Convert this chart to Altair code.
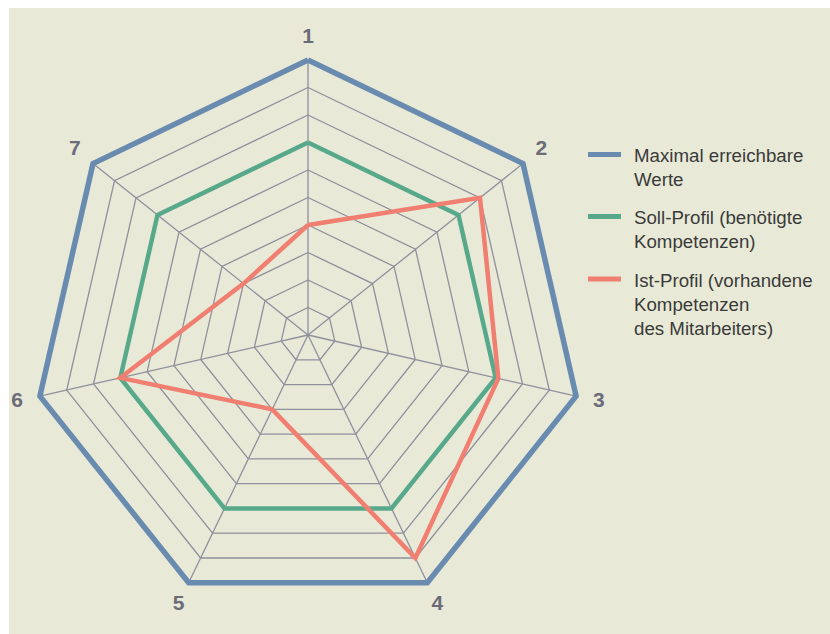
import math
import altair as alt
import pandas as pd

# ---- data ----
axes = ["1", "2", "3", "4", "5", "6", "7"]
max_vals = [10, 10, 10, 10, 10, 10, 10]
soll_vals = [7, 7, 7, 7, 7, 7, 7]
ist_vals = [4, 8, 7.1, 9, 3, 7, 3]
series = ["Maximal erreichbare Werte",
          "Soll-Profil (benötigte Kompetenzen)",
          "Ist-Profil (vorhandene Kompetenzen des Mitarbeiters)"]
legend_lines = [["Maximal erreichbare", "Werte"],
                ["Soll-Profil (benötigte", "Kompetenzen)"],
                ["Ist-Profil (vorhandene", "Kompetenzen", "des Mitarbeiters)"]]
rings = [1, 2, 3, 4, 5, 6, 7, 8, 9, 10]
colors = ["#6a8bb0", "#58a98b", "#f07e71"]

# ---- layout ----
W, H = 830, 634
CX, CY, U = 308, 335, 27.5
n = len(axes)


def ang(k):
    return 2 * math.pi * k / n


xs = alt.Scale(domain=[-CX / U, (W - CX) / U], range=[0, W], nice=False, zero=False)
ys = alt.Scale(domain=[-(H - CY) / U, CY / U], range=[H, 0], nice=False, zero=False)

# grid rings
grid_rows = []
for r in rings:
    for k in range(n + 1):
        a = ang(k % n)
        grid_rows.append({"ring": r, "k": k, "x": r * math.sin(a), "y": r * math.cos(a)})
grid_df = pd.DataFrame(grid_rows)

spoke_df = pd.DataFrame([{"x": 0.0, "y": 0.0,
                          "x2": max(rings) * math.sin(ang(k)),
                          "y2": max(rings) * math.cos(ang(k))} for k in range(n)])

# series
ser_rows = []
for s, vals in zip(series, [max_vals, soll_vals, ist_vals]):
    for k in range(n + 1):
        v = vals[k % n]
        a = ang(k % n)
        ser_rows.append({"series": s, "k": k, "x": v * math.sin(a), "y": v * math.cos(a)})
ser_df = pd.DataFrame(ser_rows)

lab_r = 10.85
lab_df = pd.DataFrame([{"label": axes[k], "x": lab_r * math.sin(ang(k)),
                        "y": lab_r * math.cos(ang(k))} for k in range(n)])

X = lambda f="x": alt.X(f"{f}:Q", scale=xs, axis=None)
Y = lambda f="y": alt.Y(f"{f}:Q", scale=ys, axis=None)

# white strips on left and top (background is the panel colour)
strip_l = alt.Chart(pd.DataFrame({"a": [0]})).mark_rect(color="white").encode(
    x=alt.value(0), x2=alt.value(9), y=alt.value(0), y2=alt.value(H))
strip_t = alt.Chart(pd.DataFrame({"a": [0]})).mark_rect(color="white").encode(
    x=alt.value(0), x2=alt.value(W), y=alt.value(0), y2=alt.value(8))

grid = alt.Chart(grid_df).mark_line(color="#8f8f9e", strokeWidth=1.3).encode(
    x=X(), y=Y(), detail="ring:N", order="k:Q")

spokes = alt.Chart(spoke_df).mark_rule(color="#8f8f9e", strokeWidth=1.3).encode(
    x=X(), y=Y(), x2="x2:Q", y2="y2:Q")

layers = [strip_l, strip_t, grid, spokes]
widths = [5.5, 4.5, 4.5]
for s, c, w in zip(series, colors, widths):
    layers.append(
        alt.Chart(ser_df[ser_df.series == s]).mark_line(
            color=c, strokeWidth=w, strokeJoin="miter", strokeMiterLimit=10).encode(
            x=X(), y=Y(), order="k:Q"))

labels = alt.Chart(lab_df).mark_text(
    font="Liberation Sans", fontSize=21, fontWeight="bold", color="#6c6c78",
    baseline="middle", align="center").encode(x=X(), y=Y(), text="label:N")
layers.append(labels)

# legend (decoration)
sym_y = [154.5, 216.5, 279]
txt_y = [162, 223.5, 286.5]
for i, (c, lines) in enumerate(zip(colors, legend_lines)):
    layers.append(alt.Chart(pd.DataFrame({"a": [0]})).mark_rule(
        color=c, strokeWidth=5).encode(
        x=alt.value(588), x2=alt.value(621), y=alt.value(sym_y[i])))
    for j, line in enumerate(lines):
        layers.append(alt.Chart(pd.DataFrame({"t": [line]})).mark_text(
            font="Liberation Sans", fontSize=18.7, color="#3a3a3a",
            align="left", baseline="alphabetic").encode(
            x=alt.value(634), y=alt.value(txt_y[i] + 24 * j), text="t:N"))

chart = alt.layer(*layers).properties(
    width=W, height=H, padding=0, autosize="none", background="#e8ead7"
).configure_view(stroke=None)

chart.save("out.html", embed_options={"renderer": "svg", "actions": False})
